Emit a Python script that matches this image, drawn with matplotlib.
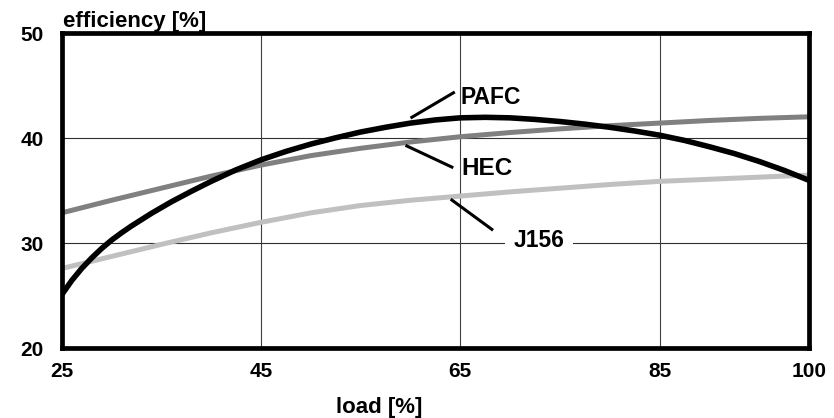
import matplotlib
matplotlib.use('Agg')
import matplotlib.pyplot as plt

plt.rcParams['font.family'] = ['Liberation Sans', 'DejaVu Sans']
plt.rcParams['font.weight'] = 'bold'

# PAFC (black)
pafc_x = [25, 26, 27, 28, 29, 30, 31, 32, 33, 34, 35, 36, 38, 40, 42.5, 45, 47.5, 50,
          52.5, 55, 57.5, 60, 62.5, 65, 67.5, 70, 72.5, 75, 77.5, 80, 82.5, 85,
          87.5, 90, 92.5, 95, 97.5, 100]
pafc_y = [25.1, 26.45, 27.6, 28.6, 29.5, 30.3, 31.0, 31.65, 32.25, 32.85, 33.4, 33.95, 34.95, 35.9,
          37.0, 37.95, 38.75, 39.45, 40.05, 40.6, 41.05, 41.45, 41.75, 41.95, 42.0, 41.95,
          41.8, 41.6, 41.35, 41.05, 40.7, 40.3, 39.8, 39.2, 38.55, 37.8, 36.95, 36.0]

# HEC (dark grey)
hec_x = [25, 30, 35, 40, 45, 50, 55, 60, 65, 70, 75, 80, 85, 90, 95, 100]
hec_y = [32.9, 34.1, 35.25, 36.4, 37.45, 38.35, 39.05, 39.65, 40.15, 40.55, 40.9, 41.2, 41.45, 41.7, 41.9, 42.05]

# J156 (light grey)
j156_x = [25, 30, 35, 40, 45, 50, 55, 60, 65, 70, 75, 80, 85, 90, 95, 100]
j156_y = [27.6, 28.75, 29.9, 31.0, 32.0, 32.9, 33.6, 34.1, 34.5, 34.9, 35.25, 35.6, 35.9, 36.1, 36.3, 36.5]

x_ticks = [25, 45, 65, 85, 100]
y_ticks = [20, 30, 40, 50]

fig = plt.figure(figsize=(8.34, 4.18), dpi=100)
ax = fig.add_axes([0.074, 0.1667, 0.896, 0.7536])

# 网格
for xv in [45, 65, 85]:
    ax.axvline(xv, color='#404040', linewidth=0.8, zorder=1)
for yv in [30, 40]:
    ax.axhline(yv, color='#303030', linewidth=0.8, zorder=1)

ax.plot(hec_x, hec_y, color='#808080', linewidth=3.6, solid_capstyle='butt',
        solid_joinstyle='round', zorder=3)
ax.plot(j156_x, j156_y, color='#c0c0c0', linewidth=3.6, solid_capstyle='butt',
        solid_joinstyle='round', zorder=3)
ax.plot(pafc_x, pafc_y, color='black', linewidth=4.0, solid_capstyle='butt',
        solid_joinstyle='round', zorder=4)

ax.set_xlim(25, 100)
ax.set_ylim(20, 50)
ax.set_xticks(x_ticks)
ax.set_yticks(y_ticks)
ax.tick_params(length=0, labelsize=15)
ax.tick_params(axis='x', pad=10)
ax.tick_params(axis='y', pad=13)
for s in ax.spines.values():
    s.set_linewidth(3.4)
    s.set_zorder(5)

# 标注
ax.plot([60.14, 64.32], [42.0, 44.34], color='black', linewidth=2.2, zorder=6)
ax.text(65.04, 43.93, 'PAFC', fontsize=16.5, ha='left', va='center', zorder=6)
ax.plot([59.64, 64.16], [39.27, 37.26], color='black', linewidth=2.2, zorder=6)
ax.text(65.16, 37.14, 'HEC', fontsize=17.5, ha='left', va='center', fontweight='heavy', zorder=6)
ax.plot([64.16, 68.17], [34.12, 31.33], color='black', linewidth=2.2, zorder=6)
ax.text(70.34, 30.24, 'J156', fontsize=16.5, ha='left', va='center', zorder=6,
        bbox=dict(facecolor='white', edgecolor='none', pad=6))

fig.text(63 / 834, 1 - 27.5 / 418, 'efficiency [%]', fontsize=16, ha='left', va='baseline')
fig.text(379 / 834, 1 - 407 / 418, 'load [%]', fontsize=16, ha='center', va='center')

plt.savefig('out.png', dpi=100)
